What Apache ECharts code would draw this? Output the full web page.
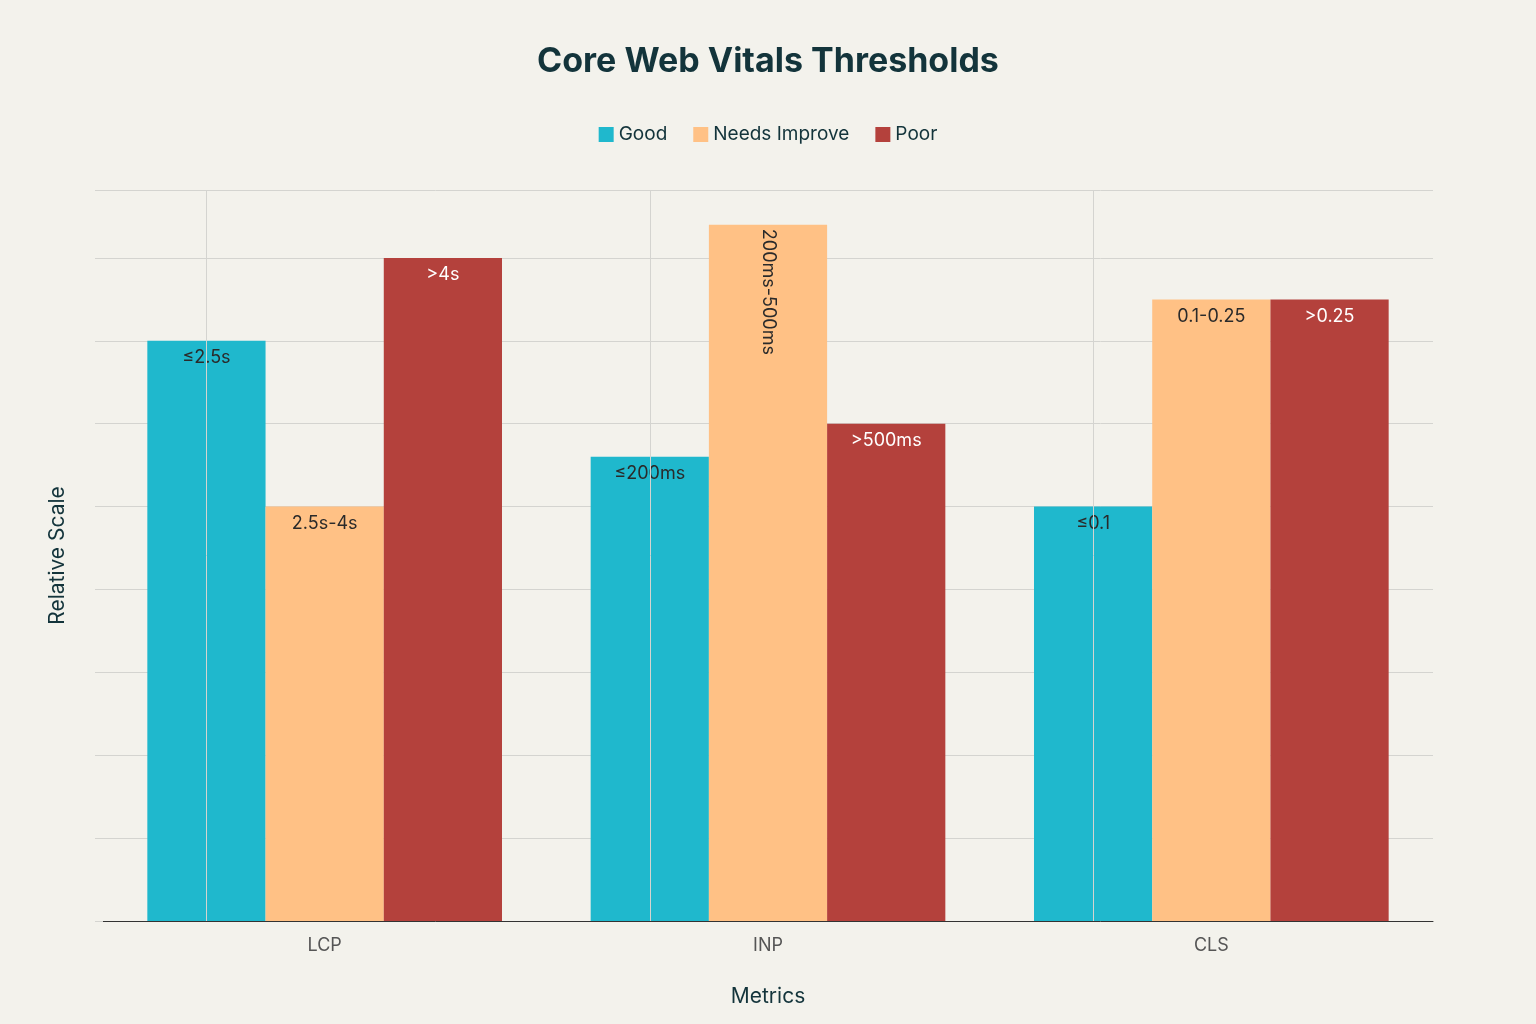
<!DOCTYPE html>
<html><head><meta charset="utf-8">
<script src="https://cdn.jsdelivr.net/npm/echarts@6/dist/echarts.min.js"></script>
<style>html,body{margin:0;background:#F3F2EC}#c{width:1536px;height:1024px}</style>
</head><body><div id="c"></div>
<script>
const categories = ['LCP','INP','CLS'];
const goodValues = [7, 5.6, 5];
const needsValues = [5, 8.4, 7.5];
const poorValues = [8, 6, 7.5];
const goodLabels = ['≤2.5s','≤200ms','≤0.1'];
const needsLabels = ['2.5s-4s','200ms-500ms','0.1-0.25'];
const poorLabels = ['>4s','>500ms','>0.25'];

const font = 'Inter, "Noto Sans", sans-serif';
function mk(name, vals, labels, color, labColor, extra) {
  return {
    name, type: 'bar', barGap: 0, barCategoryGap: '20%',
    itemStyle: { color },
    data: vals.map((v, i) => {
      const d = { value: v, label: { formatter: labels[i] } };
      if (extra && extra[i]) Object.assign(d.label, extra[i]);
      return d;
    }),
    label: { show: true, position: 'insideTop', distance: 8, color: labColor, fontSize: 18, fontFamily: font }
  };
}
const s1 = mk('Good', goodValues, goodLabels, '#1FB8CD', '#2a2a2a');
s1.markLine = {
  silent: true, symbol: 'none', label: { show: false },
  lineStyle: { color: '#d4d4d0', type: 'solid', width: 1 },
  data: categories.map(c => ({ xAxis: c }))
};
s1.z = 1;
const s2 = mk('Needs Improve', needsValues, needsLabels, '#FFC185', '#2a2a2a',
  [null, { rotate: -90, position: 'insideTop', align: 'left', verticalAlign: 'middle', distance: 4 }, null]);
const s3 = mk('Poor', poorValues, poorLabels, '#B4413C', '#ffffff');

const chart = echarts.init(document.getElementById('c'));
chart.setOption({
  backgroundColor: '#F3F2EC',
  title: { text: 'Core Web Vitals Thresholds', left: 'center', top: 40,
    textStyle: { fontSize: 34, fontWeight: 'bold', color: '#13343B', fontFamily: font } },
  legend: { top: 120, left: 'center', itemWidth: 15, itemHeight: 15, itemGap: 26, icon: 'rect',
    textStyle: { fontSize: 19, color: '#13343B', fontFamily: font } },
  grid: { left: 103, right: 103, top: 190, bottom: 103 },
  xAxis: { type: 'category', data: categories,
    name: 'Metrics', nameLocation: 'middle', nameGap: 65,
    nameTextStyle: { fontSize: 21, color: '#13343B', fontFamily: font },
    axisLine: { lineStyle: { color: '#333' } }, axisTick: { show: false },
    axisLabel: { fontSize: 18, color: '#555', fontFamily: font, margin: 16 } },
  yAxis: { type: 'value', min: 0, max: 8.82, interval: 1,
    name: 'Relative Scale', nameLocation: 'middle', nameGap: 35,
    nameTextStyle: { fontSize: 21, color: '#13343B', fontFamily: font },
    axisLabel: { show: false }, axisLine: { show: false },
    axisTick: { show: true, length: 8, lineStyle: { color: '#d4d4d0' } },
    splitLine: { lineStyle: { color: '#d4d4d0' } } },
  series: [s1, s2, s3]
});
</script></body></html>
